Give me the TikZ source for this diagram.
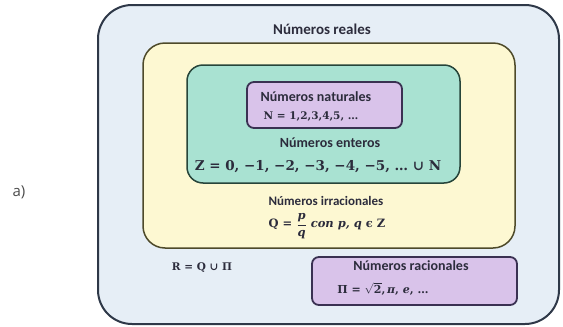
\documentclass[tikz,border=0pt]{standalone}
\usepackage{amsmath}
\usepackage[no-math]{fontspec}
\setmainfont{Carlito}
\newfontfamily\partfont{Open Sans}
\newfontfamily\formulafont{DejaVu Serif}
\definecolor{realfill}{HTML}{E6EEF6}
\definecolor{irrfill}{HTML}{FDF8D2}
\definecolor{intfill}{HTML}{A9E2D2}
\definecolor{natfill}{HTML}{D9C3EA}
\definecolor{setedge}{HTML}{2E3848}
\definecolor{irredge}{HTML}{4E4A2A}
\definecolor{intedge}{HTML}{27453A}
\definecolor{natedge}{HTML}{3A3152}
\definecolor{settext}{HTML}{2C2C3C}

\begin{document}
\begin{tikzpicture}[
  x=1pt,y=-1pt,
  line join=round,
  realset/.style={fill=realfill,draw=setedge,line width=2pt,rounded corners=34pt},
  irrset/.style={fill=irrfill,draw=irredge,line width=1.5pt,rounded corners=22pt},
  intset/.style={fill=intfill,draw=intedge,line width=1.5pt,rounded corners=16pt},
  natset/.style={fill=natfill,draw=natedge,line width=1.8pt,rounded corners=7pt},
  setname/.style={font=\bfseries\fontsize{14}{16}\selectfont,text=settext,inner sep=0pt},
  setmath/.style={font=\formulafont\bfseries\fontsize{13.5}{16}\selectfont,text=settext,inner sep=0pt}
]
  \useasboundingbox (0,0) rectangle (563,327);

  \path[realset] (98,5) rectangle (559,324);
  \path[irrset] (143,43) rectangle (515,248);
  \path[intset] (187,65) rectangle (460,183);
  \path[natset] (247,82) rectangle (402,128);
  \path[natset] (312,257) rectangle (517,305);

  \node[setname,font=\bfseries\fontsize{15}{17}\selectfont] (realname) at (322,29) {Números reales};
  \node[setname] (natname) at (316,97) {Números naturales};
  \node[setmath,font=\formulafont\bfseries\fontsize{10.5}{13}\selectfont] (natdef) at (311,116) {N = 1,2,3,4,5, …};
  \node[setname] (intname) at (330,143) {Números enteros};
  \node[setmath] (intdef) at (318,167) {Z = 0, −1, −2, −3, −4, −5, … ∪ N};
  \node[setname,font=\bfseries\fontsize{13}{15}\selectfont] (irrname) at (326,201) {Números irracionales};
  \node[setmath,font=\formulafont\bfseries\fontsize{11.5}{14}\selectfont] (irrdef) at (327,226)
    {Q = $\dfrac{\text{\itshape p}}{\text{\itshape q}}$ \textit{con p, q} ϵ Z};
  \node[setmath,font=\formulafont\bfseries\fontsize{10.5}{13}\selectfont] (realdef) at (202,268) {R = Q ∪ Π};
  \node[setname] (ratname) at (411,266) {Números racionales};
  \node[setmath,font=\formulafont\bfseries\fontsize{11}{13}\selectfont] (ratdef) at (383,289)
    {Π = $\sqrt{\text{2}}$,\,\textit{π}, \textit{e}, …};

  \node[font=\partfont\fontsize{15}{18}\selectfont,text=black!70] (partlabel) at (19,192) {a)};
\end{tikzpicture}
\end{document}
